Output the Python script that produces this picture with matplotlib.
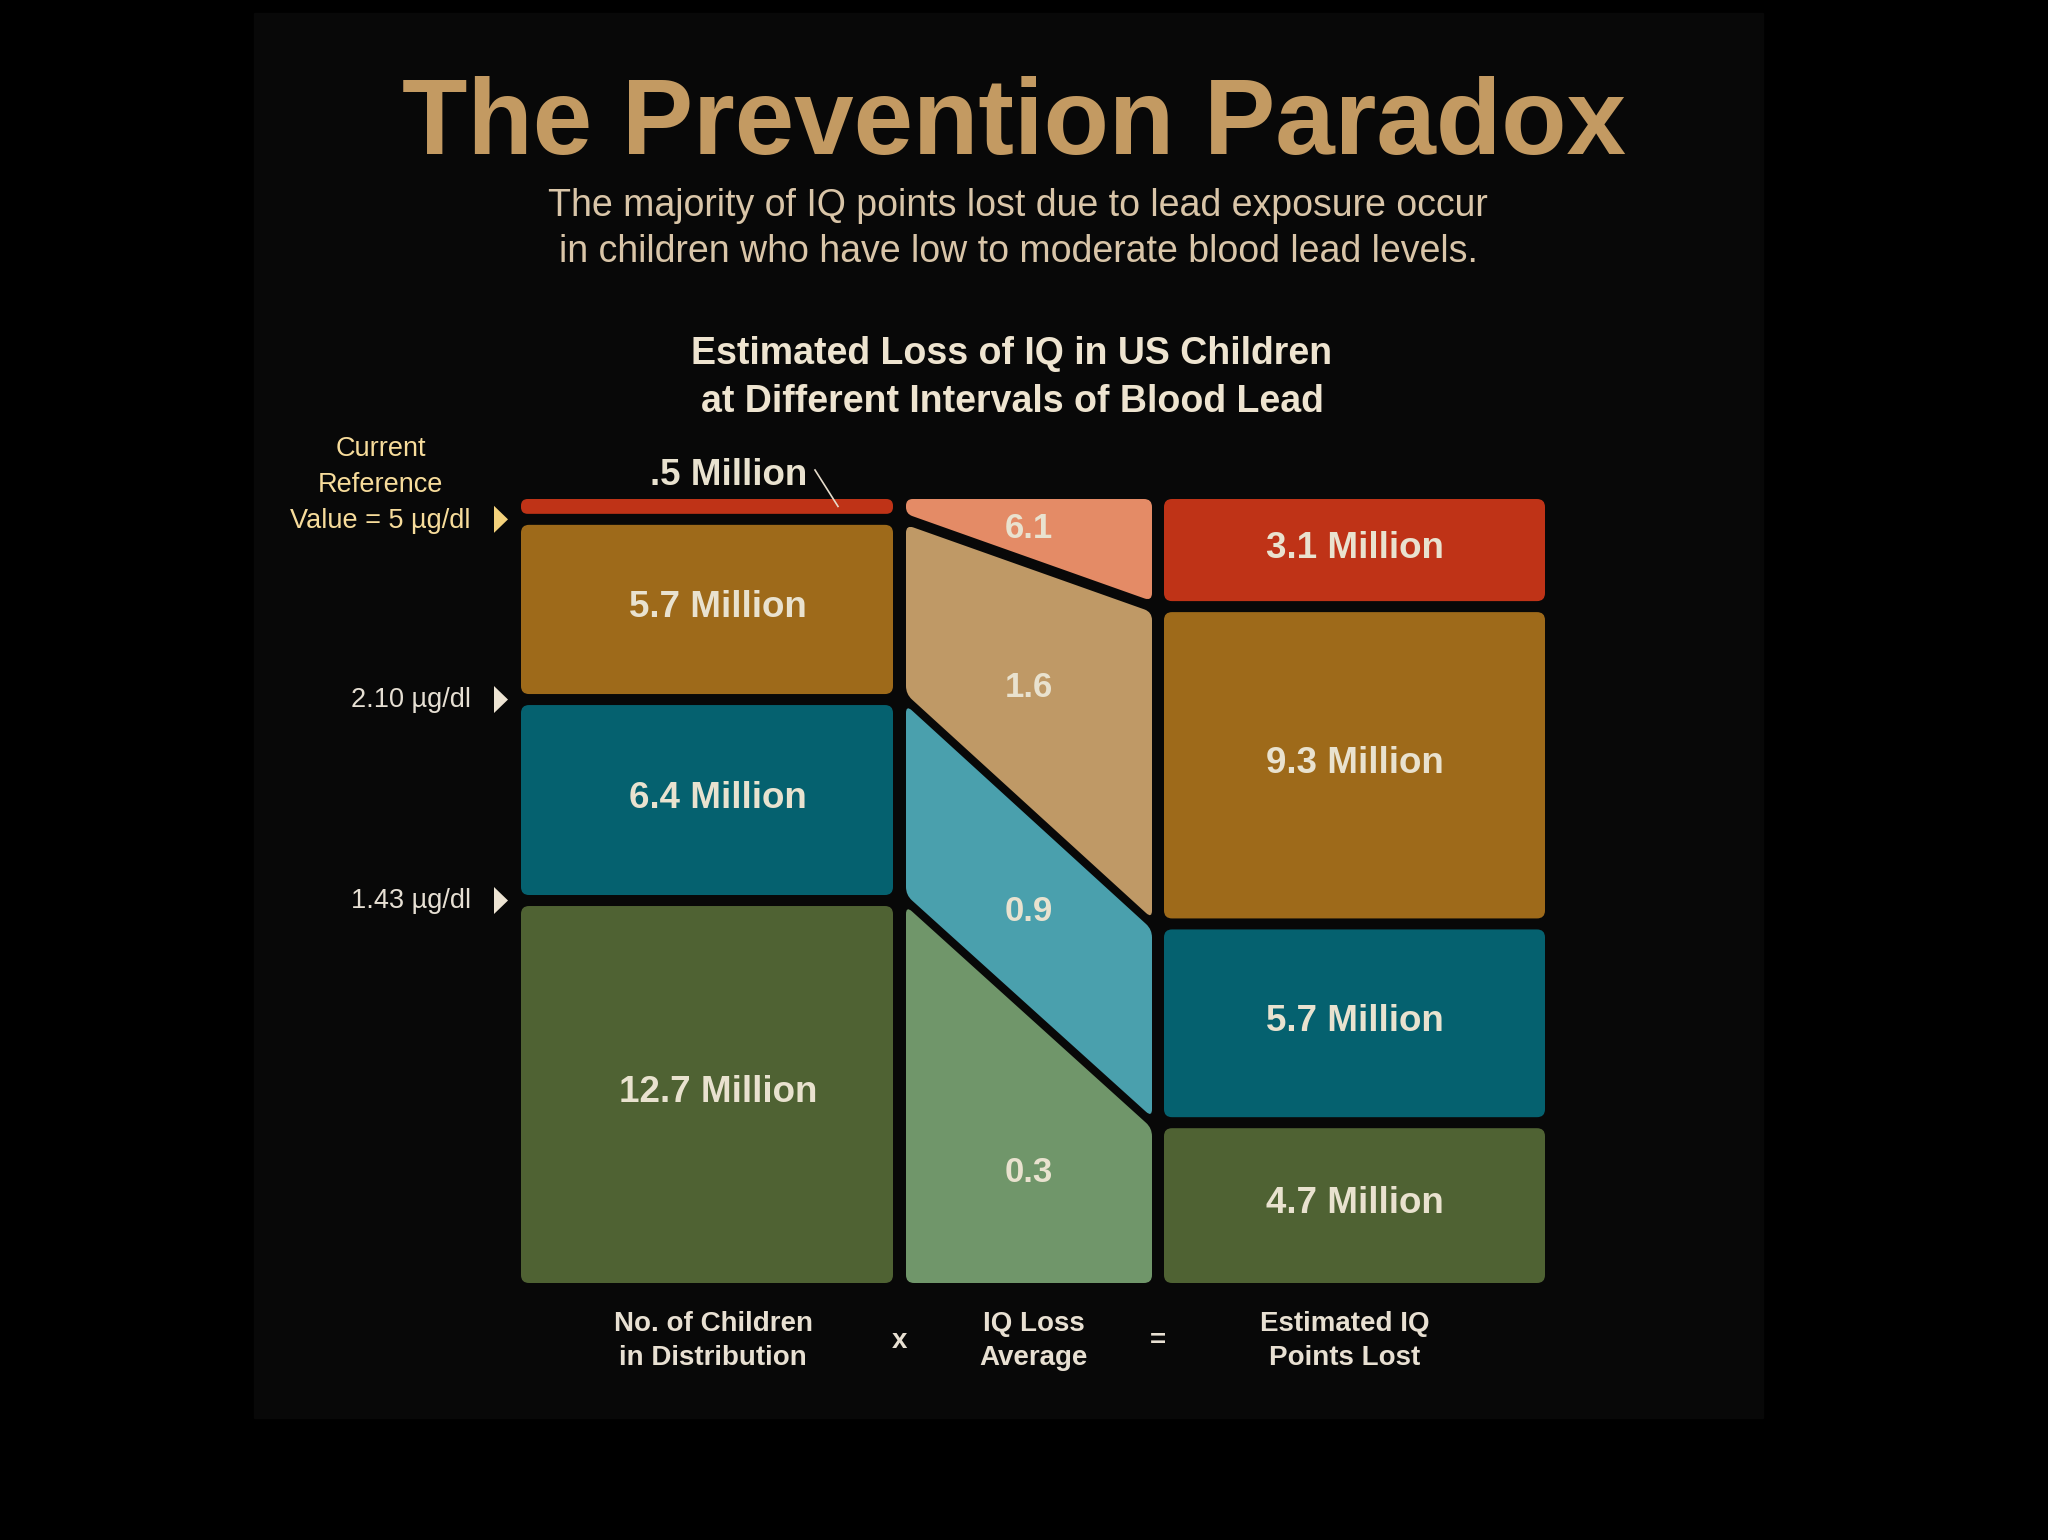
import numpy as np
import matplotlib
matplotlib.use("Agg")
import matplotlib.pyplot as plt
from matplotlib.path import Path
from matplotlib.patches import PathPatch, Rectangle, Polygon

plt.rcParams['font.family'] = ['Liberation Sans', 'DejaVu Sans']

# data
children = [0.5, 5.7, 6.4, 12.7]          # millions of children per blood lead interval
iq_loss = [6.1, 1.6, 0.9, 0.3]            # average IQ points lost
points_lost = [3.1, 9.3, 5.7, 4.7]        # millions of IQ points lost
children_labels = [".5 Million", "5.7 Million", "6.4 Million", "12.7 Million"]
iq_labels = ["6.1", "1.6", "0.9", "0.3"]
points_labels = ["3.1 Million", "9.3 Million", "5.7 Million", "4.7 Million"]
cut_labels = ["Current\nReference\nValue = 5 µg/dl", "2.10 µg/dl", "1.43 µg/dl"]
col_titles = ["No. of Children\nin Distribution", "IQ Loss\nAverage", "Estimated IQ\nPoints Lost"]

dark_colors = ["#BF3317", "#9E6A1A", "#05616F", "#4F6233"]
light_colors = ["#E48B66", "#BF9966", "#4AA0AD", "#70966A"]
text_col = "#E9E2CF"

# layout (pixels)
W, H = 2048, 1540
top, bottom, gap = 499, 1283, 11
c1 = (521, 893)
c2 = (906, 1152)
c3 = (1164, 1545)
radius = 8


def stack(values):
    # split the column height between the values, keeping gaps between blocks
    avail = (bottom - top) - gap * (len(values) - 1)
    scale = avail / sum(values)
    segs = []
    y = top
    for v in values:
        segs.append((y, y + v * scale))
        y = y + v * scale + gap
    return segs


def rounded(pts, r):
    pts = [np.array(p, dtype=float) for p in pts]
    n = len(pts)
    verts, codes = [], []
    for i in range(n):
        p, prev, nxt = pts[i], pts[i - 1], pts[(i + 1) % n]
        d1 = np.linalg.norm(prev - p)
        d2 = np.linalg.norm(nxt - p)
        rr = min(r, 0.45 * d1, 0.45 * d2)
        a = p + (prev - p) / d1 * rr
        b = p + (nxt - p) / d2 * rr
        verts += [a, p, b]
        codes += [Path.MOVETO if i == 0 else Path.LINETO, Path.CURVE3, Path.CURVE3]
    verts.append(verts[0])
    codes.append(Path.CLOSEPOLY)
    return Path(verts, codes)


fig = plt.figure(figsize=(W / 100, H / 100), dpi=100)
fig.patch.set_facecolor("black")
ax = fig.add_axes([0, 0, 1, 1])
ax.set_xlim(0, W)
ax.set_ylim(H, 0)
ax.axis("off")

ax.add_patch(Rectangle((254, 13), 1763 - 254, 1418 - 13, color="#080808", zorder=0))

s1 = stack(children)
s3 = stack(points_lost)

for i in range(len(children)):
    y0, y1 = s1[i]
    ax.add_patch(PathPatch(rounded([(c1[0], y0), (c1[1], y0), (c1[1], y1), (c1[0], y1)], radius),
                           facecolor=dark_colors[i], edgecolor="none"))
    r0, r1 = s3[i]
    ax.add_patch(PathPatch(rounded([(c3[0], r0), (c3[1], r0), (c3[1], r1), (c3[0], r1)], radius),
                           facecolor=dark_colors[i], edgecolor="none"))
    quad = [(c2[0], y0), (c2[1], r0), (c2[1], r1), (c2[0], y1)]
    ax.add_patch(PathPatch(rounded(quad, radius), facecolor=light_colors[i], edgecolor="none"))

    ax.text((c2[0] + c2[1]) / 2, (y0 + y1 + r0 + r1) / 4 + (22 if i == 3 else 0), iq_labels[i],
            color=text_col, fontsize=25, fontweight="bold", ha="center", va="center")
    ax.text((c3[0] + c3[1]) / 2, (r0 + r1) / 2 - 2, points_labels[i], color=text_col,
            fontsize=26.5, fontweight="bold", ha="center", va="center")
    if i == 0:
        # too thin for text, label above with a leader line
        ax.text((c1[0] + c1[1]) / 2 + 22, y0 - 14, children_labels[i], color=text_col,
                fontsize=26.5, fontweight="bold", ha="center", va="baseline")
        ax.plot([c1[0] + 294, c1[0] + 317], [y0 - 29, (y0 + y1) / 2], color="#E6DCCB", lw=1.2)
    else:
        ax.text((c1[0] + c1[1]) / 2 + 11, (y0 + y1) / 2 - 2, children_labels[i], color=text_col,
                fontsize=26.5, fontweight="bold", ha="center", va="center")

# blood lead cut points on the left
for i, lab in enumerate(cut_labels):
    ty = (s1[i][1] + s1[i + 1][0]) / 2
    tri_col = "#F4D27C" if i == 0 else "#EDE4D3"
    ax.add_patch(Polygon([(494, ty - 13.5), (508, ty), (494, ty + 13.5)], closed=True,
                         facecolor=tri_col, edgecolor="none"))
    if i == 0:
        ax.text(471, ty + 15, lab, color="#F7DC9B", fontsize=19.5, ha="right", va="bottom",
                multialignment="center", linespacing=1.5)
    else:
        ax.text(471, ty - 3, lab, color="#E6DFD3", fontsize=19.5, ha="right", va="center_baseline")

# column captions
caption_x = [(c1[0] + c1[1]) / 2 + 6, (c2[0] + c2[1]) / 2 + 5, (c3[0] + c3[1]) / 2 - 10]
for x, lab in zip(caption_x, col_titles):
    ax.text(x, 1341, lab, color="#E8E0D2", fontsize=20, fontweight="bold", ha="center",
            va="center", multialignment="center", linespacing=1.4)
ax.text((c1[1] + c2[0]) / 2, 1341, "x", color="#E8E0D2", fontsize=20, fontweight="bold",
        ha="center", va="center")
ax.text((c2[1] + c3[0]) / 2, 1341, "=", color="#E8E0D2", fontsize=20, fontweight="bold",
        ha="center", va="center")

# titles
ax.text(1014, 154, "The Prevention Paradox", color="#C39A62", fontsize=77, fontweight="bold",
        ha="center", va="baseline")
ax.text(1018, 229, "The majority of IQ points lost due to lead exposure occur\n"
        "in children who have low to moderate blood lead levels.",
        color="#D9C5A8", fontsize=27, ha="center", va="center", linespacing=1.35)
ax.text(1012, 378, "Estimated Loss of IQ in US Children\nat Different Intervals of Blood Lead",
        color="#EEE4D0", fontsize=27, fontweight="bold", ha="center", va="center", linespacing=1.45)

fig.savefig("out.png", dpi=100, facecolor="black")
